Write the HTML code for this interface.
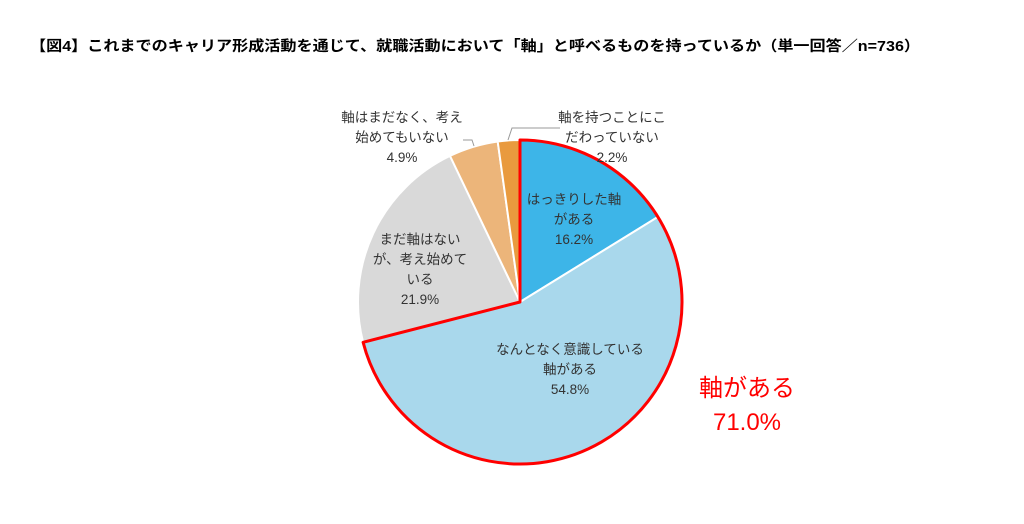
<!DOCTYPE html>
<html><head><meta charset="utf-8"><style>
html,body{margin:0;padding:0;background:#fff;}
svg{display:block;}
text{font-family:"Liberation Sans","Noto Sans CJK JP",sans-serif;}
</style></head><body>
<svg width="1024" height="524" viewBox="0 0 1024 524" xmlns="http://www.w3.org/2000/svg">
<text x="30" y="51" font-size="14.5" font-weight="bold" fill="#000" textLength="890" lengthAdjust="spacingAndGlyphs">【図4】これまでのキャリア形成活動を通じて、就職活動において「軸」と呼べるものを持っているか（単一回答／n=736）</text>
<g stroke="#fff" stroke-width="2">
<path d="M520,302 L520,140 A162,162 0 0 1 657.9,216.9 Z" fill="#3db5e8"/>
<path d="M520,302 L657.9,216.9 A162,162 0 1 1 363.1,342.3 Z" fill="#a9d8ec"/>
<path d="M520,302 L363.1,342.3 A162,162 0 0 1 450.0,155.9 Z" fill="#d9d9d9"/>
<path d="M520,302 L450.0,155.9 A162,162 0 0 1 497.7,141.5 Z" fill="#ecb57a"/>
<path d="M520,302 L497.7,141.5 A162,162 0 0 1 520,140 Z" fill="#e99a3e"/>
</g>
<path d="M520,302 L520,140 A162,162 0 1 1 363.1,342.3 Z" fill="none" stroke="#ff0000" stroke-width="3" stroke-linejoin="round"/>
<g font-size="13.5" fill="#333" text-anchor="middle">
<text x="574" y="204">はっきりした軸</text>
<text x="574" y="224">がある</text>
<text x="574" y="244">16.2%</text>
<text x="570" y="354">なんとなく意識している</text>
<text x="570" y="374">軸がある</text>
<text x="570" y="394">54.8%</text>
<text x="420" y="244">まだ軸はない</text>
<text x="420" y="264">が、考え始めて</text>
<text x="420" y="284">いる</text>
<text x="420" y="304">21.9%</text>
<text x="402" y="122">軸はまだなく、考え</text>
<text x="402" y="142">始めてもいない</text>
<text x="402" y="162">4.9%</text>
<text x="612" y="122">軸を持つことにこ</text>
<text x="612" y="142">だわっていない</text>
<text x="612" y="162">2.2%</text>
</g>
<polyline points="463,140 472,140 474,146" fill="none" stroke="#999" stroke-width="1"/>
<polyline points="508,140 512,128 560,128" fill="none" stroke="#999" stroke-width="1"/>
<g font-size="24" fill="#ff0000" text-anchor="middle">
<text x="747" y="396">軸がある</text>
<text x="747" y="430">71.0%</text>
</g>
</svg>
</body></html>
